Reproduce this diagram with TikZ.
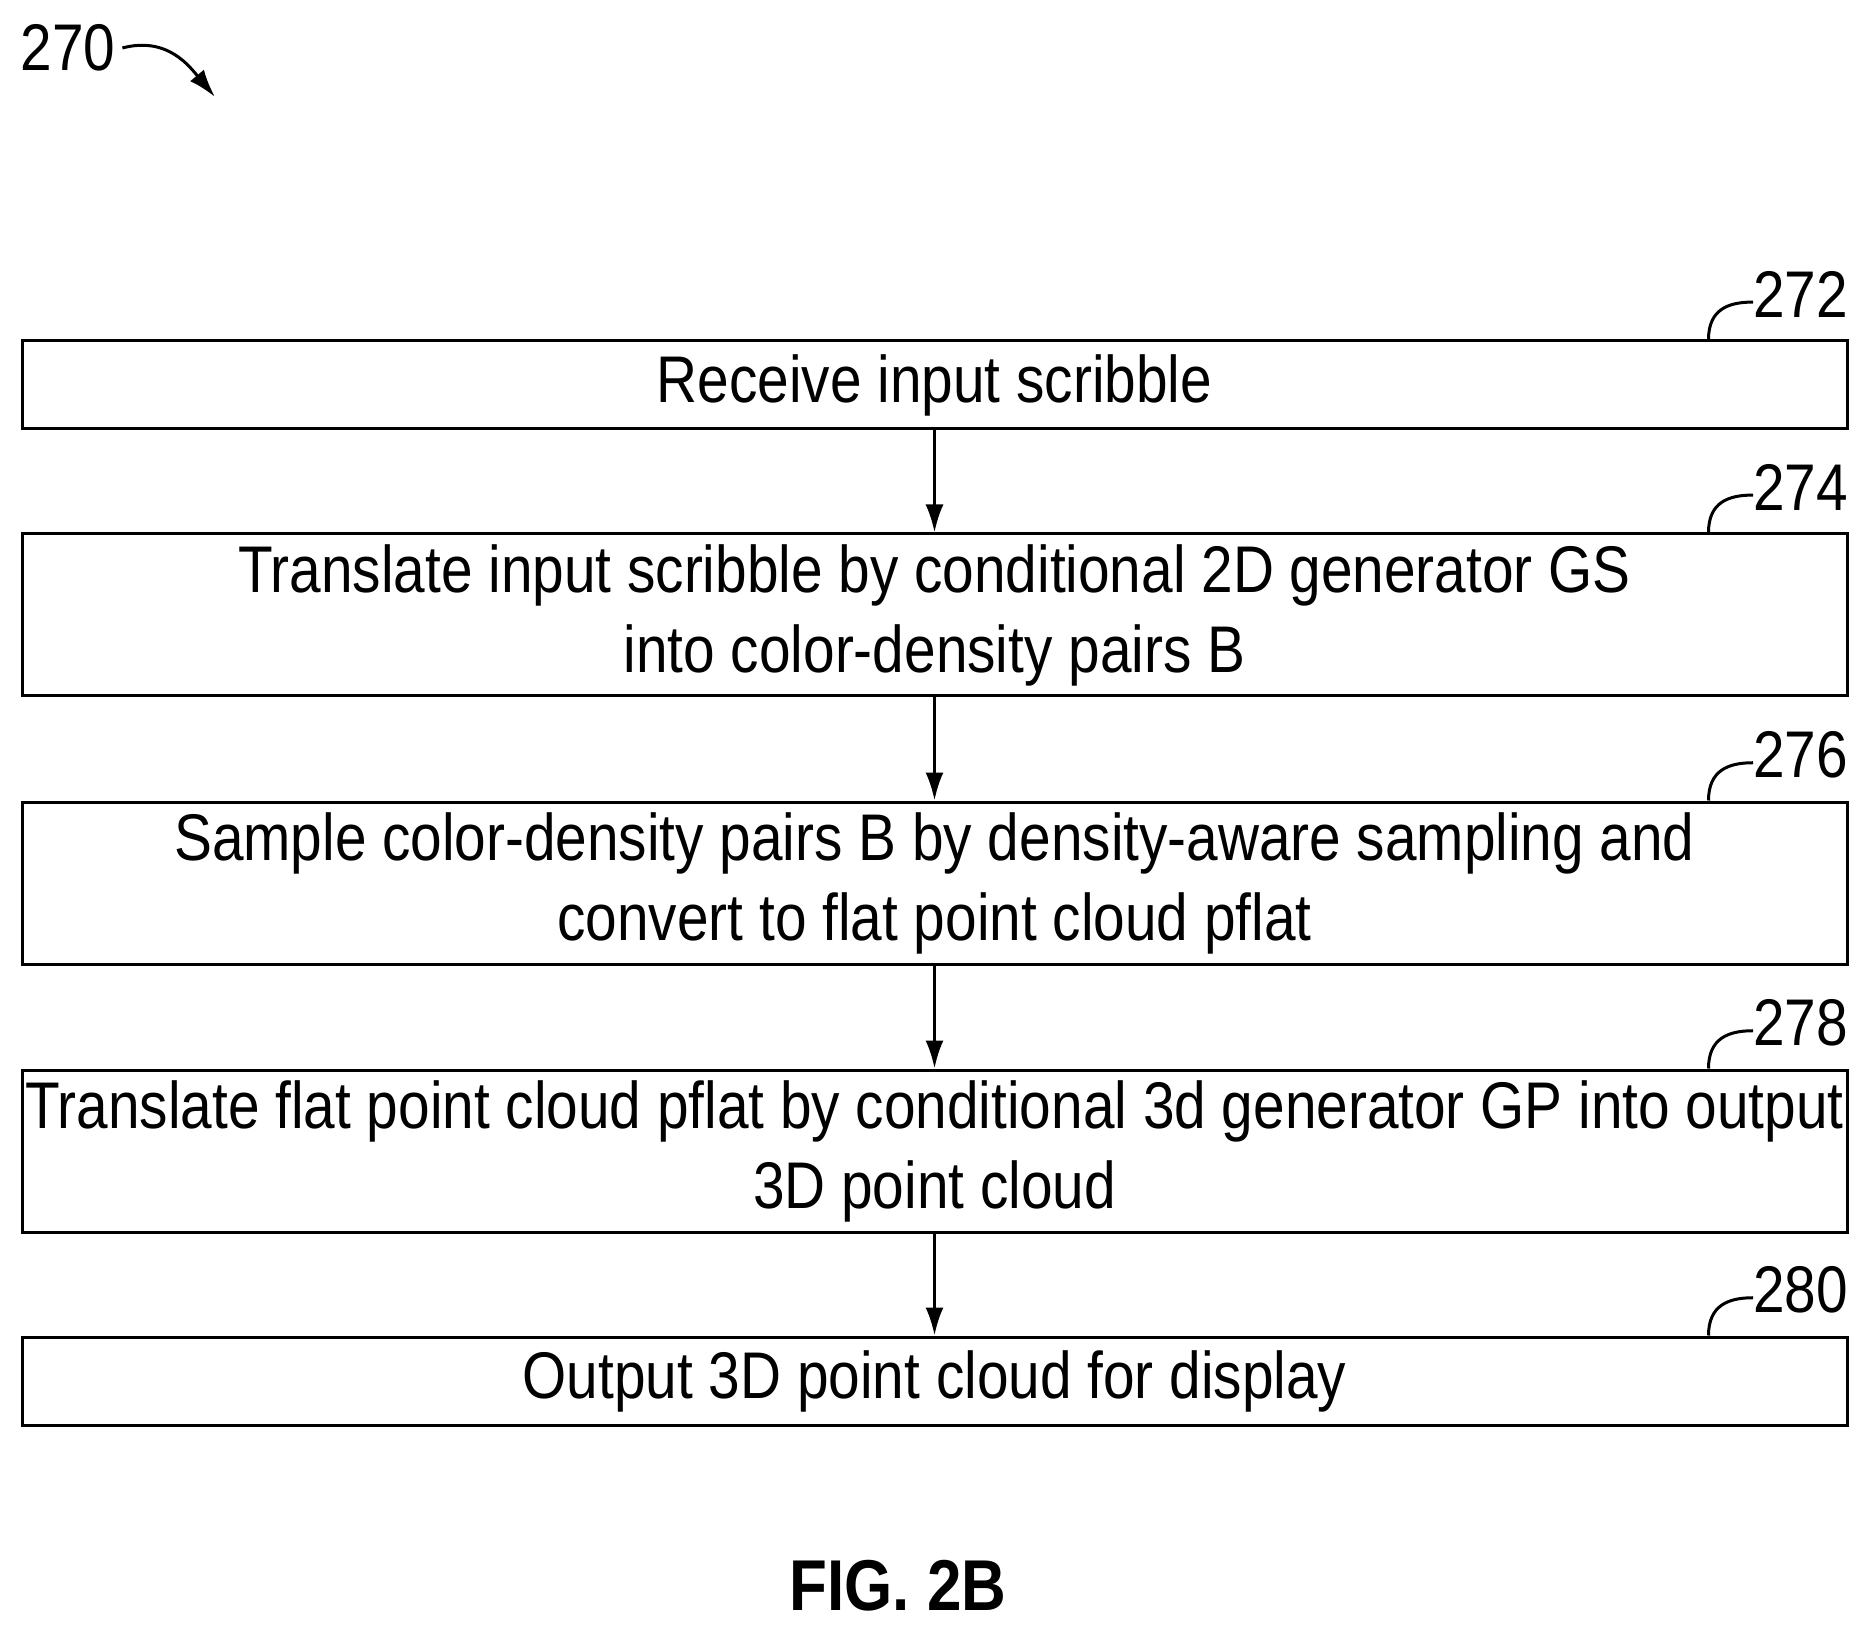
\documentclass[tikz,border=0pt]{standalone}
\usepackage{fontspec}
\setmainfont[FakeStretch=0.86]{Liberation Sans}
\usetikzlibrary{positioning,arrows.meta}
\tikzset{
  stepbox/.style={draw, line width=1.5pt, minimum width=912.5pt, align=center,
    font=\fontsize{33}{40}\selectfont, inner sep=0pt},
  reflabel/.style={font=\fontsize{33}{36}\selectfont, anchor=south east, inner sep=0pt},
  flow/.style={-{Latex[length=14pt,width=9pt]}, line width=1.5pt},
}
\begin{document}
\begin{tikzpicture}[x=0.5pt,y=-0.5pt]
    \useasboundingbox (0,0) rectangle (1868,1625);
    \node[stepbox, minimum height=44pt] (s1) at (934.5,385) {Receive input scribble};
    \node[stepbox, minimum height=81pt] (s2) at (934.5,615) {Translate input scribble by conditional 2D generator GS\\into color-density pairs B};
    \node[stepbox, minimum height=81pt] (s3) at (934.5,883) {Sample color-density pairs B by density-aware sampling and\\convert to flat point cloud pflat};
    \node[stepbox, minimum height=81pt] (s4) at (934.5,1151) {Translate flat point cloud pflat by conditional 3d generator GP into output\\3D point cloud};
    \node[stepbox, minimum height=44pt] (s5) at (934.5,1381) {Output 3D point cloud for display};
    \draw[flow] (s1) -- (s2);
    \draw[flow] (s2) -- (s3);
    \draw[flow] (s3) -- (s4);
    \draw[flow] (s4) -- (s5);
    % reference numerals
    \foreach \n/\s in {272/s1,274/s2,276/s3,278/s4,280/s5} {
      \node[reflabel] (l\n) at ([yshift=11pt]\s.north east) {\n};
      \draw[line width=1.5pt] ([xshift=-70pt]\s.north east) .. controls +(0,-30) and +(-25,0) .. ([yshift=-4pt]l\n.west);
    }
    \node[font=\fontsize{33}{36}\selectfont] (n270) at (68,48) {270};
    \coordinate (a270) at (215,97);
    \draw[-{Latex[length=14pt,width=9pt]}, line width=1.5pt] (n270.east) .. controls +(45,-12) and +(-25,-30) .. (a270);
    \node[font=\bfseries\fontsize{36}{40}\selectfont] (fig) at (898,1586) {FIG. 2B};
\end{tikzpicture}
\end{document}
